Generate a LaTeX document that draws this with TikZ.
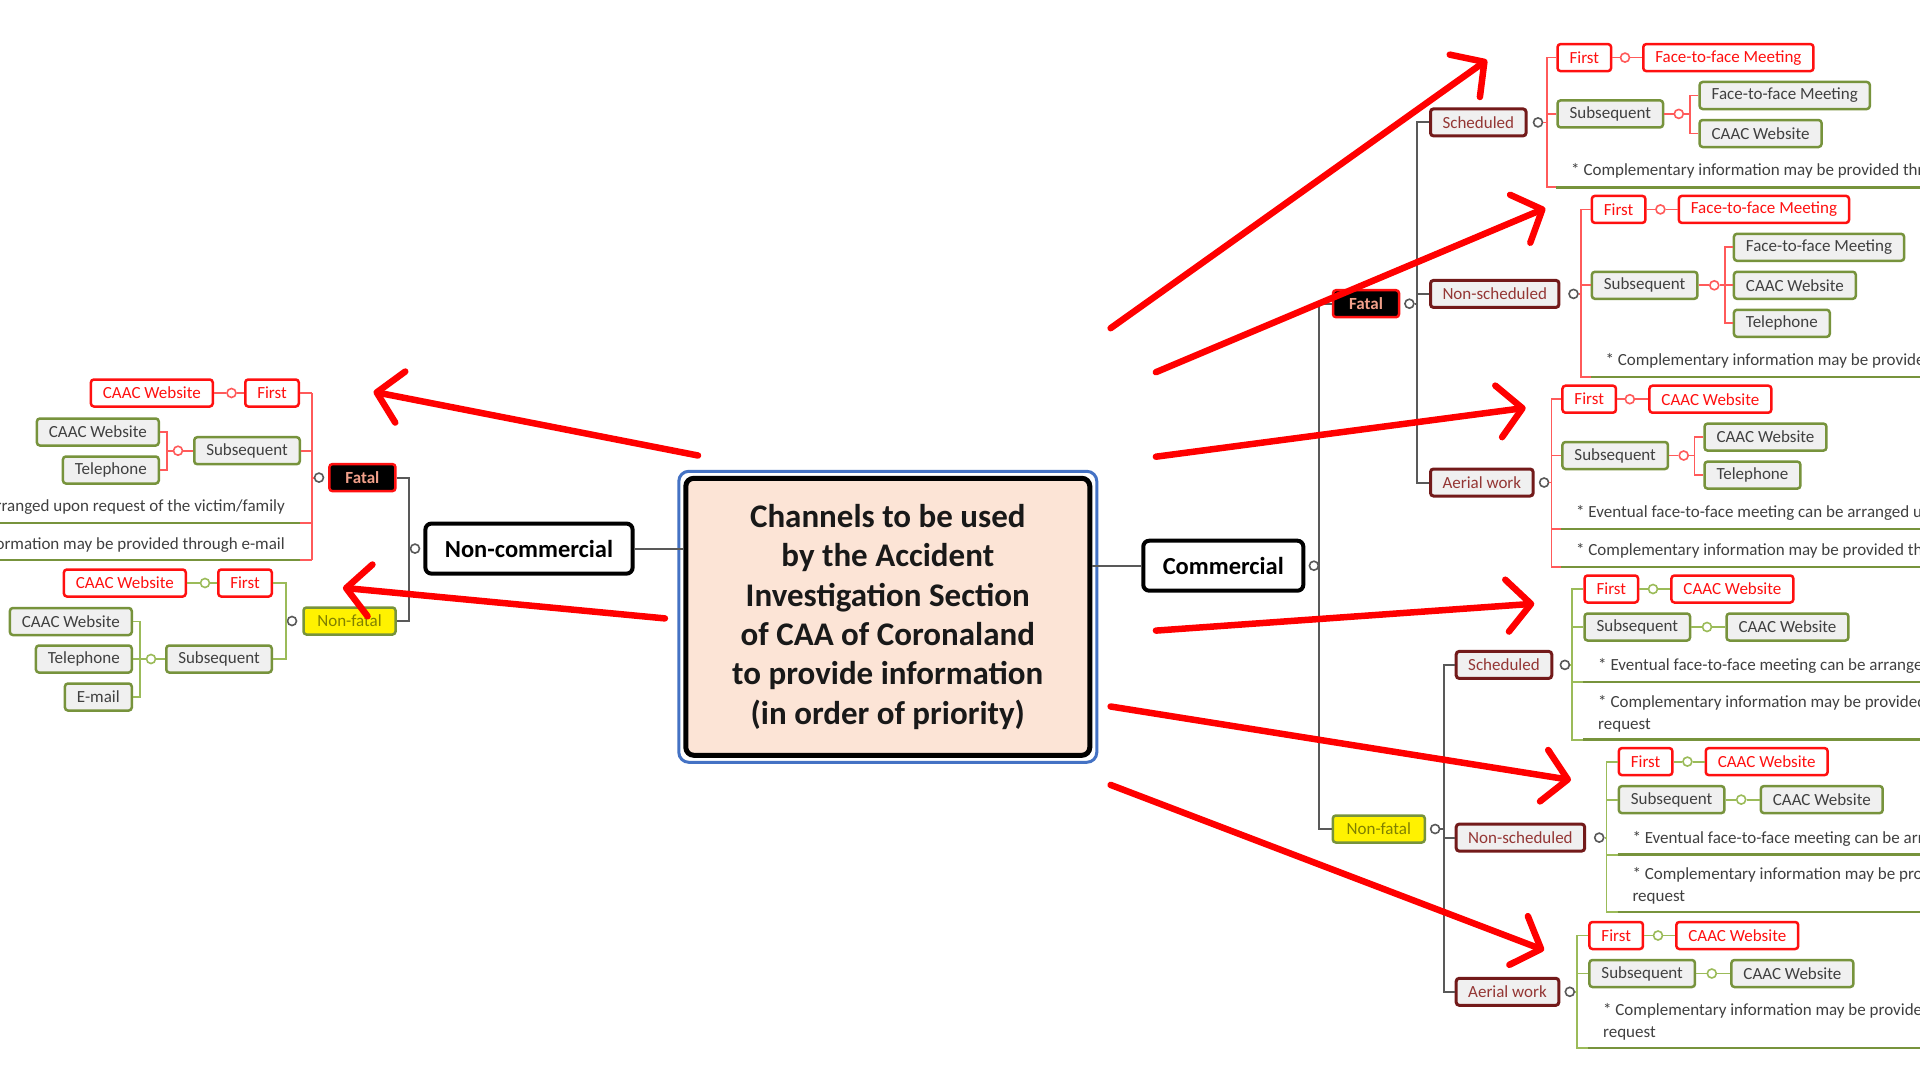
\documentclass[tikz,border=0pt]{standalone}
\usepackage{fontspec}
\setmainfont{Carlito}
\usetikzlibrary{arrows.meta}
\definecolor{cred}{HTML}{FF1010}
\definecolor{cgreen}{HTML}{77933C}
\definecolor{lgreen}{HTML}{9BBB59}
\definecolor{dred}{HTML}{731A1A}
\definecolor{dredtxt}{HTML}{943634}
\definecolor{bgray}{HTML}{F0F0F0}
\definecolor{tgray}{HTML}{404040}
\definecolor{lgray}{HTML}{595959}
\definecolor{peach}{HTML}{FCE4D6}
\definecolor{cblue}{HTML}{4472C4}
\definecolor{lred}{HTML}{FF5A5A}
\definecolor{fataltxt}{HTML}{F2A08A}
\definecolor{nftxt}{HTML}{808000}
\begin{document}
\begin{tikzpicture}[x=1pt,y=-1pt,
  base/.style={font=\fontsize{17}{20}\selectfont, line width=2.5pt, rounded corners=3pt, minimum height=27pt, inner xsep=12pt, inner ysep=0pt},
  rbox/.style={base, draw=cred, fill=white, text=cred},
  gbox/.style={base, draw=cgreen, fill=bgray, text=tgray},
  cbox/.style={base, draw=dred, line width=3pt, fill=bgray, text=dredtxt},
  fbox/.style={base, draw=cred, fill=black, text=fataltxt, font=\fontsize{17}{20}\selectfont\bfseries, minimum width=66pt},
  nfbox/.style={base, draw=cgreen, fill=yellow, text=nftxt, minimum width=92pt},
  tbox/.style={draw=black, line width=4pt, rounded corners=6pt, fill=white, text=black, font=\fontsize{24.5}{28}\selectfont\bfseries, minimum height=50pt, inner xsep=19.5pt},
  notetxt/.style={font=\fontsize{17}{22}\selectfont, text=tgray, inner sep=0pt, align=left},
  knob/.style={circle, draw=#1, fill=white, line width=1.6pt, minimum size=9pt, inner sep=0pt},
  gline/.style={draw=lgray, line width=2pt},
  rline/.style={draw=lred, line width=1.8pt},
  nline/.style={draw=lgreen, line width=1.8pt},
  uline/.style={draw=cgreen, line width=2.5pt},
  arr/.style={draw=red, line width=6.5pt, line cap=round, -{Straight Barb[length=24pt,width=52pt,round]}}
]
\useasboundingbox (0,0) rectangle (1920,1081);
\clip (0,0) rectangle (1920,1081);
\fill[white] (0,0) rectangle (1920,1081);

% ---------- centre ----------
\node[draw=black, line width=5pt, rounded corners=8pt, fill=peach, minimum width=404pt, minimum height=277pt, align=center, font=\fontsize{33}{39.4}\selectfont\bfseries, text=black!90] (title) at (887.8,616.8) {Channels to be used\\by the Accident\\Investigation Section\\of CAA of Coronaland\\to provide information\\(in order of priority)};
\draw[cblue, line width=3pt, rounded corners=10pt] ([shift={(-4.5,-4.5)}]title.north west) rectangle ([shift={(4.5,4.5)}]title.south east);

\node[tbox] (nc) at (529,548.6) {Non-commercial};
\node[knob=lgray] (nck) at (415,548.6) {};
\node[tbox] (com) at (1223.3,565.7) {Commercial};
\node[knob=lgray] (comk) at (1313.9,565.7) {};
\draw[gline] (nc.east) -- (nc.east -| title.west);
\draw[gline] (com.west) -- (com.west -| title.east);

% ---------- left side ----------
\coordinate (busL) at (409,0);
\node[fbox] (lf) at (362.4,477.6) {Fatal};
\node[knob=lgray] (lfk) at (319,477.6) {};
\node[nfbox] (lnf) at (349.5,621) {Non-fatal};
\node[knob=lgray] (lnfk) at (292,621) {};
\draw[gline] (lf.east) -- (lf.east -| busL) -- (lnf.east -| busL) -- (lnf.east);
\draw[gline] (nck.west) -- (nck -| busL);

% left fatal
\coordinate (lfb) at (312,0);
\node[rbox, anchor=east] (lf1) at (300,393) {First};
\node[knob=lred] (lf1k) at (231.5,393) {};
\node[rbox, anchor=east] (lf1a) at (214,393) {CAAC Website};
\node[gbox, anchor=east] (lf2) at (301,450.7) {Subsequent};
\node[knob=lred] (lf2k) at (178,450.7) {};
\node[gbox, anchor=east] (lf2a) at (160,432) {CAAC Website};
\node[gbox, anchor=east] (lf2b) at (160,470) {Telephone};
\node[notetxt, anchor=east] (lfn1) at (285,507) {* Eventual face-to-face meeting can be arranged upon request of the victim/family};
\node[notetxt, anchor=east] (lfn2) at (285,545) {* Complementary information may be provided through e-mail};
\coordinate (lfu1) at (300,523);
\coordinate (lfu2) at (300,560);
\draw[rline] (lfk.west) -- (lfk -| lfb);
\draw[rline] (lf1.east -| lfb) -- (lfu2 -| lfb);
\draw[rline] (lf1.east) -- (lf1.east -| lfb);
\draw[rline] (lf2.east) -- (lf2.east -| lfb);
\draw[rline] (lfu1) -- (lfu1 -| lfb);
\draw[rline] (lfu2) -- (lfu2 -| lfb);
\draw[uline] (lfu1) -- (-20,523);
\draw[uline] (lfu2) -- (-20,560);
\draw[rline] (lf1.west) -- (lf1k.east);
\draw[rline] (lf1k.west) -- (lf1a.east);
\draw[rline] (lf2.west) -- (lf2k.east);
\draw[rline] (lf2k.west) -- ++(-6,0) coordinate (lf2j);
\draw[rline] (lf2a.east) -| (lf2j) |- (lf2b.east);

% left non-fatal
\coordinate (lnb) at (286,0);
\node[rbox, anchor=east] (ln1) at (273,583) {First};
\node[knob=lgreen] (ln1k) at (205,583) {};
\node[rbox, anchor=east] (ln1a) at (187,583) {CAAC Website};
\node[gbox, anchor=east] (ln2) at (273,659) {Subsequent};
\node[knob=lgreen] (ln2k) at (151,659) {};
\node[gbox, anchor=east] (ln2a) at (133,621.5) {CAAC Website};
\node[gbox, anchor=east] (ln2b) at (133,659) {Telephone};
\node[gbox, anchor=east] (ln2c) at (133,697) {E-mail};
\draw[nline] (lnfk.west) -- (lnfk -| lnb);
\draw[nline] (ln1.east) -| (lnb |- lnfk) |- (ln2.east);
\draw[nline] (ln1.west) -- (ln1k.east);
\draw[nline] (ln1k.west) -- (ln1a.east);
\draw[nline] (ln2.west) -- (ln2k.east);
\draw[nline] (ln2k.west) -- ++(-6,0) coordinate (ln2j);
\draw[nline] (ln2a.east) -| (ln2j) |- (ln2c.east);
\draw[nline] (ln2j) -- (ln2b.east);

% ---------- right side ----------
\coordinate (busC) at (1318.8,0);
\node[fbox] (rf) at (1366,303.7) {Fatal};
\node[knob=lgray] (rfk) at (1409.4,303.7) {};
\node[nfbox] (rnf) at (1378.8,829) {Non-fatal};
\node[knob=lgray] (rnfk) at (1435.1,829) {};
\draw[gline] (rf.west) -- (rf.west -| busC) -- (rnf.west -| busC) -- (rnf.west);
\draw[gline] (comk.east) -- (comk -| busC);

% fatal bus
\coordinate (busF) at (1416.7,0);
\node[cbox, anchor=west] (fs) at (1429,122.4) {Scheduled};
\node[knob=lgray] (fsk) at (1538,122.4) {};
\node[cbox, anchor=west] (fn) at (1429,293.9) {Non-scheduled};
\node[knob=lgray] (fnk) at (1573.5,293.9) {};
\node[cbox, anchor=west] (fa) at (1429,482.5) {Aerial work};
\node[knob=lgray] (fak) at (1544.1,482.5) {};
\draw[gline] (rfk.east) -- (rfk -| busF);
\draw[gline] (fs.west) -- (fs.west -| busF) -- (fa.west -| busF) -- (fa.west);
\draw[gline] (fn.west) -- (fn.west -| busF);

% F scheduled
\coordinate (fsb) at (1546.6,0);
\node[rbox, anchor=west] (fs1) at (1556.3,57.6) {First};
\node[knob=lred] (fs1k) at (1625,57.6) {};
\node[rbox, anchor=west] (fs1a) at (1642,57.6) {Face-to-face Meeting};
\node[gbox, anchor=west] (fs2) at (1556.3,113.9) {Subsequent};
\node[knob=lred] (fs2k) at (1678.8,113.9) {};
\node[gbox, anchor=west] (fs2a) at (1698.4,95.5) {Face-to-face Meeting};
\node[gbox, anchor=west] (fs2b) at (1698.4,133.5) {CAAC Website};
\node[notetxt, anchor=west] (fsn) at (1571,171.4) {* Complementary information may be provided through e-mail};
\coordinate (fsu) at (1556.3,187.3);
\draw[rline] (fsk.east) -- (fsk -| fsb);
\draw[rline] (fs1.west) -- (fs1.west -| fsb) -- (fsu -| fsb) -- (fsu);
\draw[rline] (fs2.west) -- (fs2.west -| fsb);
\draw[uline] (fsu) -- ++(420,0);
\draw[rline] (fs1.east) -- (fs1k.west);
\draw[rline] (fs1k.east) -- (fs1a.west);
\draw[rline] (fs2.east) -- (fs2k.west);
\draw[rline] (fs2k.east) -- ++(5.5,0) coordinate (fs2j);
\draw[rline] (fs2a.west) -| (fs2j) |- (fs2b.west);

% F non-scheduled
\coordinate (fnb) at (1580.8,0);
\node[rbox, anchor=west] (fn1) at (1590.6,209.4) {First};
\node[knob=lred] (fn1k) at (1660.4,209.4) {};
\node[rbox, anchor=west] (fn1a) at (1677.6,209.4) {Face-to-face Meeting};
\node[gbox, anchor=west] (fn2) at (1590.6,285.3) {Subsequent};
\node[knob=lred] (fn2k) at (1714.3,285.3) {};
\node[gbox, anchor=west] (fn2a) at (1732.7,247.3) {Face-to-face Meeting};
\node[gbox, anchor=west] (fn2b) at (1732.7,285.3) {CAAC Website};
\node[gbox, anchor=west] (fn2c) at (1732.7,323.3) {Telephone};
\node[notetxt, anchor=west] (fnn) at (1605.3,361.2) {* Complementary information may be provided through e-mail};
\coordinate (fnu) at (1590.6,377.1);
\draw[rline] (fnk.east) -- (fnk -| fnb);
\draw[rline] (fn1.west) -- (fn1.west -| fnb) -- (fnu -| fnb) -- (fnu);
\draw[rline] (fn2.west) -- (fn2.west -| fnb);
\draw[uline] (fnu) -- ++(420,0);
\draw[rline] (fn1.east) -- (fn1k.west);
\draw[rline] (fn1k.east) -- (fn1a.west);
\draw[rline] (fn2.east) -- (fn2k.west);
\draw[rline] (fn2k.east) -- ++(5.5,0) coordinate (fn2j);
\draw[rline] (fn2a.west) -| (fn2j) |- (fn2c.west);
\draw[rline] (fn2j) -- (fn2b.west);

% F aerial work
\coordinate (fab) at (1551.4,0);
\node[rbox, anchor=west] (fa1) at (1561.2,399.2) {First};
\node[knob=lred] (fa1k) at (1629.8,399.2) {};
\node[rbox, anchor=west] (fa1a) at (1648.2,399.2) {CAAC Website};
\node[gbox, anchor=west] (fa2) at (1561.2,455.5) {Subsequent};
\node[knob=lred] (fa2k) at (1683.7,455.5) {};
\node[gbox, anchor=west] (fa2a) at (1703.3,437.1) {CAAC Website};
\node[gbox, anchor=west] (fa2b) at (1703.3,475.1) {Telephone};
\node[notetxt, anchor=west] (fan1) at (1575.9,513) {* Eventual face-to-face meeting can be arranged upon request of the victim/family};
\node[notetxt, anchor=west] (fan2) at (1575.9,551) {* Complementary information may be provided through e-mail};
\coordinate (fau1) at (1561.2,529);
\coordinate (fau2) at (1561.2,567);
\draw[rline] (fak.east) -- (fak -| fab);
\draw[rline] (fa1.west) -- (fa1.west -| fab) -- (fau2 -| fab) -- (fau2);
\draw[rline] (fa2.west) -- (fa2.west -| fab);
\draw[rline] (fau1) -- (fau1 -| fab);
\draw[uline] (fau1) -- ++(420,0);
\draw[uline] (fau2) -- ++(420,0);
\draw[rline] (fa1.east) -- (fa1k.west);
\draw[rline] (fa1k.east) -- (fa1a.west);
\draw[rline] (fa2.east) -- (fa2k.west);
\draw[rline] (fa2k.east) -- ++(5.5,0) coordinate (fa2j);
\draw[rline] (fa2a.west) -| (fa2j) |- (fa2b.west);

% non-fatal bus
\coordinate (busN) at (1443.7,0);
\node[cbox, anchor=west] (ns) at (1454.7,664.9) {Scheduled};
\node[knob=lgray] (nsk) at (1564.9,664.9) {};
\node[cbox, anchor=west] (nn) at (1454.7,837.6) {Non-scheduled};
\node[knob=lgray] (nnk) at (1599.2,837.6) {};
\node[cbox, anchor=west] (na) at (1454.7,991.8) {Aerial work};
\node[knob=lgray] (nak) at (1569.8,991.8) {};
\draw[gline] (rnfk.east) -- (rnfk -| busN);
\draw[gline] (ns.west) -- (ns.west -| busN) -- (na.west -| busN) -- (na.west);
\draw[gline] (nn.west) -- (nn.west -| busN);

% NF scheduled
\coordinate (nsb) at (1572.2,0);
\node[rbox, anchor=west] (ns1) at (1583.3,589) {First};
\node[knob=lgreen] (ns1k) at (1653,589) {};
\node[rbox, anchor=west] (ns1a) at (1670.2,589) {CAAC Website};
\node[gbox, anchor=west] (ns2) at (1583.3,627) {Subsequent};
\node[knob=lgreen] (ns2k) at (1707,627) {};
\node[gbox, anchor=west] (ns2a) at (1725.3,627) {CAAC Website};
\node[notetxt, anchor=west] (nsn1) at (1598,666.1) {* Eventual face-to-face meeting can be arranged upon request of the victim/family};
\node[notetxt, anchor=west] (nsn2) at (1598,713.9) {* Complementary information may be provided through e-mail upon\\request};
\coordinate (nsu1) at (1583.3,682);
\coordinate (nsu2) at (1583.3,739.6);
\draw[nline] (nsk.east) -- (nsk -| nsb);
\draw[nline] (ns1.west) -- (ns1.west -| nsb) -- (nsu2 -| nsb) -- (nsu2);
\draw[nline] (ns2.west) -- (ns2.west -| nsb);
\draw[nline] (nsu1) -- (nsu1 -| nsb);
\draw[uline] (nsu1) -- ++(420,0);
\draw[uline] (nsu2) -- ++(420,0);
\draw[nline] (ns1.east) -- (ns1k.west);
\draw[nline] (ns1k.east) -- (ns1a.west);
\draw[nline] (ns2.east) -- (ns2k.west);
\draw[nline] (ns2k.east) -- (ns2a.west);

% NF non-scheduled
\coordinate (nnb) at (1606.5,0);
\node[rbox, anchor=west] (nn1) at (1617.6,761.6) {First};
\node[knob=lgreen] (nn1k) at (1687.4,761.6) {};
\node[rbox, anchor=west] (nn1a) at (1704.5,761.6) {CAAC Website};
\node[gbox, anchor=west] (nn2) at (1617.6,799.6) {Subsequent};
\node[knob=lgreen] (nn2k) at (1741.2,799.6) {};
\node[gbox, anchor=west] (nn2a) at (1759.6,799.6) {CAAC Website};
\node[notetxt, anchor=west] (nnn1) at (1632.3,838.8) {* Eventual face-to-face meeting can be arranged upon request of the victim/family};
\node[notetxt, anchor=west] (nnn2) at (1632.3,885.9) {* Complementary information may be provided through e-mail upon\\request};
\coordinate (nnu1) at (1617.6,854.7);
\coordinate (nnu2) at (1617.6,912.2);
\draw[nline] (nnk.east) -- (nnk -| nnb);
\draw[nline] (nn1.west) -- (nn1.west -| nnb) -- (nnu2 -| nnb) -- (nnu2);
\draw[nline] (nn2.west) -- (nn2.west -| nnb);
\draw[nline] (nnu1) -- (nnu1 -| nnb);
\draw[uline] (nnu1) -- ++(420,0);
\draw[uline] (nnu2) -- ++(420,0);
\draw[nline] (nn1.east) -- (nn1k.west);
\draw[nline] (nn1k.east) -- (nn1a.west);
\draw[nline] (nn2.east) -- (nn2k.west);
\draw[nline] (nn2k.east) -- (nn2a.west);

% NF aerial work
\coordinate (nab) at (1577.1,0);
\node[rbox, anchor=west] (na1) at (1588.2,935.5) {First};
\node[knob=lgreen] (na1k) at (1658,935.5) {};
\node[rbox, anchor=west] (na1a) at (1675.1,935.5) {CAAC Website};
\node[gbox, anchor=west] (na2) at (1588.2,973.5) {Subsequent};
\node[knob=lgreen] (na2k) at (1711.8,973.5) {};
\node[gbox, anchor=west] (na2a) at (1730.2,973.5) {CAAC Website};
\node[notetxt, anchor=west] (nan) at (1602.9,1021.9) {* Complementary information may be provided through e-mail upon\\request};
\coordinate (nau) at (1588.2,1048.2);
\draw[nline] (nak.east) -- (nak -| nab);
\draw[nline] (na1.west) -- (na1.west -| nab) -- (nau -| nab) -- (nau);
\draw[nline] (na2.west) -- (na2.west -| nab);
\draw[uline] (nau) -- ++(420,0);
\draw[nline] (na1.east) -- (na1k.west);
\draw[nline] (na1k.east) -- (na1a.west);
\draw[nline] (na2.east) -- (na2k.west);
\draw[nline] (na2k.east) -- (na2a.west);

% ---------- red arrows ----------
\coordinate (a1s) at (1110.6,328.2); \coordinate (a1e) at (1487,60);
\coordinate (a2s) at (1155.9,372.2); \coordinate (a2e) at (1545.3,208.2);
\coordinate (a3s) at (1155.9,456.7); \coordinate (a3e) at (1525.7,407.8);
\coordinate (a4s) at (1155.9,630.6); \coordinate (a4e) at (1534.3,603.7);
\coordinate (a5s) at (1110.6,706.5); \coordinate (a5e) at (1571,780);
\coordinate (a6s) at (1110.6,784.9); \coordinate (a6e) at (1544.1,950.2);
\coordinate (a7s) at (698,455.5);    \coordinate (a7e) at (373.5,391.8);
\coordinate (a8s) at (664.9,618.4);  \coordinate (a8e) at (342.9,587.8);
\foreach \i in {1,...,8} {\draw[arr] (a\i s) -- (a\i e);}
\end{tikzpicture}
\end{document}
